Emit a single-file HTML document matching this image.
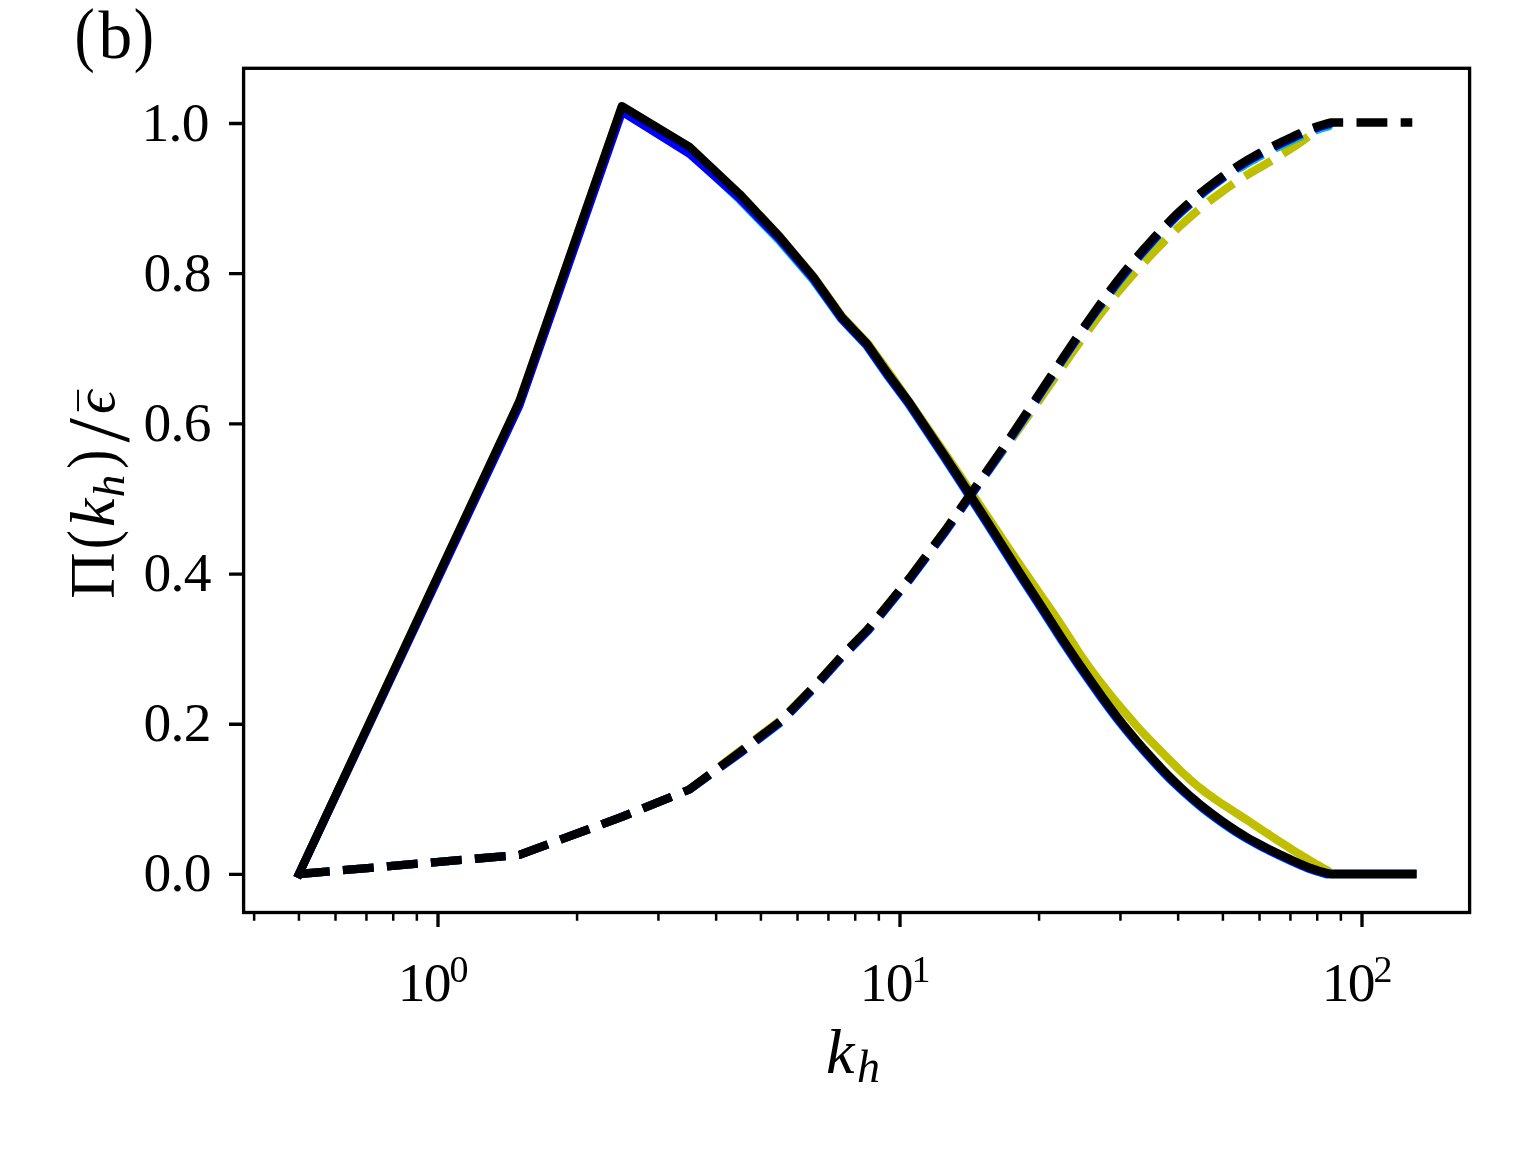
<!DOCTYPE html>
<html lang="en">
<head>
<meta charset="utf-8">
<title>(b) flux figure</title>
<style>
html,body{margin:0;padding:0;background:#ffffff;}
body{width:1536px;height:1152px;overflow:hidden;}
svg{display:block;}
</style>
</head>
<body>
<svg width="1536" height="1152" viewBox="0 0 1536 1152">
<rect x="0" y="0" width="1536" height="1152" fill="#ffffff"/>
<clipPath id="axclip"><rect x="243.60" y="68.30" width="1226.00" height="844.20"/></clipPath>
<g clip-path="url(#axclip)" fill="none" stroke-width="8.33" stroke-linejoin="round">
<path d="M298.92 874.00 L519.35 401.30 L621.85 106.40 L689.36 147.00 L739.78 194.20 L780.05 237.20 L813.57 276.80 L842.28 316.60 L867.39 343.00 L889.71 373.62 L909.79 402.51 L928.04 428.76 L944.77 453.10 L960.21 475.84 L974.55 497.24 L987.93 517.32 L1000.48 536.14 L1012.28 553.75 L1023.43 570.16 L1034.00 585.38 L1044.03 599.77 L1053.59 613.64 L1062.71 627.22 L1071.43 640.69 L1079.79 653.96 L1087.82 665.38 L1095.54 675.87 L1102.97 685.58 L1110.14 694.61 L1117.06 703.06 L1123.75 711.01 L1130.22 718.54 L1136.49 725.70 L1142.57 732.50 L1148.47 738.65 L1154.21 744.48 L1159.78 750.16 L1165.20 755.68 L1170.48 760.99 L1175.63 766.08 L1180.64 770.93 L1185.54 775.52 L1190.32 779.84 L1194.98 783.88 L1199.54 787.64 L1204.00 791.11 L1208.36 794.37 L1212.63 797.44 L1216.81 800.34 L1220.91 803.11 L1224.92 805.76 L1228.85 808.32 L1232.71 810.81 L1236.50 813.24 L1240.22 815.62 L1243.86 817.98 L1247.45 820.31 L1250.97 822.64 L1254.43 824.94 L1257.83 827.21 L1261.17 829.43 L1264.46 831.62 L1267.70 833.76 L1270.88 835.87 L1274.02 837.93 L1277.10 839.95 L1280.14 841.93 L1283.14 843.87 L1286.09 845.77 L1289.00 847.62 L1291.86 849.44 L1294.69 851.21 L1297.48 852.95 L1300.22 854.64 L1302.94 856.29 L1305.61 857.90 L1308.25 859.48 L1310.86 861.03 L1313.43 862.54 L1315.97 864.02 L1318.48 865.47 L1320.95 866.89 L1323.40 868.29 L1325.82 869.65 L1328.21 871.00 L1330.57 874.00 L1412.31 874.00" stroke="#bfbf00" stroke-linecap="square"/>
<path d="M298.92 874.00 L519.35 854.90 L621.85 816.90 L689.36 789.50 L739.78 751.10 L780.05 720.50 L813.57 687.00 L842.28 655.20 L867.39 629.70 L889.71 602.30 L909.79 577.71 L928.04 553.22 L944.77 531.12 L960.21 509.28 L974.55 489.44 L987.93 471.57 L1000.48 454.48 L1012.28 438.20 L1023.43 422.63 L1034.00 407.69 L1044.03 393.38 L1053.59 379.56 L1062.71 366.35 L1071.43 353.92 L1079.79 342.11 L1087.82 330.99 L1095.54 320.59 L1102.97 310.84 L1110.14 301.69 L1117.06 293.16 L1123.75 285.22 L1130.22 277.78 L1136.49 270.77 L1142.57 264.12 L1148.47 257.76 L1154.21 251.66 L1159.78 245.83 L1165.20 240.30 L1170.48 235.06 L1175.63 230.13 L1180.64 225.50 L1185.54 221.07 L1190.32 216.83 L1194.98 212.80 L1199.54 208.97 L1204.00 205.35 L1208.36 201.91 L1212.63 198.65 L1216.81 195.54 L1220.91 192.55 L1224.92 189.68 L1228.85 186.93 L1232.71 184.28 L1236.50 181.74 L1240.22 179.32 L1243.86 176.99 L1247.45 174.77 L1250.97 172.65 L1254.43 170.62 L1257.83 168.66 L1261.17 166.76 L1264.46 164.86 L1267.70 162.96 L1270.88 161.08 L1274.02 159.19 L1277.10 157.32 L1280.14 155.45 L1283.14 153.59 L1286.09 151.75 L1289.00 149.90 L1291.86 148.06 L1294.69 146.23 L1297.48 144.43 L1300.22 142.54 L1302.94 140.58 L1305.61 138.60 L1308.25 136.62 L1310.86 134.69 L1313.43 132.85 L1315.97 130.99 L1318.48 129.01 L1320.95 127.13 L1323.40 125.57 L1325.82 124.38 L1328.21 123.35 L1330.57 122.50" stroke="#bfbf00" stroke-linecap="butt" stroke-dasharray="30.83 13.33" stroke-dashoffset="0.00"/>
<path d="M298.92 874.00 L519.35 404.30 L621.85 109.10 L689.36 152.20 L739.78 199.80 L779.75 241.20 L812.97 279.90 L840.98 318.60 L866.09 345.20 L888.41 377.07 L908.49 404.08 L926.74 431.46 L943.47 456.60 L958.91 480.15 L973.25 502.43 L986.63 523.22 L999.18 543.11 L1010.98 561.84 L1022.13 579.32 L1032.70 595.46 L1042.73 610.94 L1052.29 625.90 L1061.41 640.15 L1070.13 653.32 L1078.49 665.62 L1086.52 677.22 L1094.24 688.15 L1101.67 698.58 L1108.84 708.42 L1115.76 717.58 L1122.45 726.03 L1128.92 733.93 L1135.19 741.36 L1141.27 748.37 L1147.17 755.00 L1152.91 761.33 L1158.48 767.38 L1163.90 773.12 L1169.18 778.52 L1174.33 783.58 L1179.34 788.29 L1184.24 792.76 L1189.02 797.00 L1193.68 801.01 L1198.24 804.83 L1202.70 808.44 L1207.06 811.86 L1211.33 815.10 L1215.51 818.19 L1219.61 821.16 L1223.62 823.99 L1227.55 826.70 L1231.41 829.29 L1235.20 831.76 L1238.92 834.11 L1242.56 836.34 L1246.15 838.47 L1249.67 840.49 L1253.13 842.42 L1256.53 844.26 L1259.87 846.04 L1263.16 847.74 L1266.40 849.39 L1269.58 850.97 L1272.72 852.51 L1275.80 854.01 L1278.84 855.46 L1281.84 856.87 L1284.79 858.25 L1287.70 859.60 L1290.56 860.93 L1293.39 862.24 L1296.18 863.51 L1298.92 864.73 L1301.64 865.90 L1304.31 867.02 L1306.95 868.07 L1309.56 869.05 L1312.13 869.95 L1314.67 870.80 L1317.18 871.61 L1319.65 872.37 L1322.10 873.09 L1324.52 873.77 L1326.91 874.40 L1330.57 874.00 L1412.31 874.00" stroke="#00bfbf" stroke-linecap="square"/>
<path d="M298.92 874.00 L519.35 854.90 L621.85 816.90 L689.36 789.50 L740.68 752.90 L780.95 722.30 L814.47 687.90 L843.18 656.10 L868.29 630.60 L890.61 603.20 L910.69 578.60 L928.94 554.00 L945.67 531.68 L961.11 509.57 L975.45 489.11 L988.83 470.31 L1001.38 452.27 L1013.18 434.91 L1024.33 418.34 L1034.90 402.45 L1044.93 387.29 L1054.49 372.73 L1063.61 358.86 L1072.33 345.90 L1080.69 333.70 L1088.72 322.18 L1096.44 311.32 L1103.97 301.85 L1111.14 292.04 L1118.06 282.91 L1124.75 274.47 L1131.22 266.57 L1137.49 259.14 L1143.57 252.13 L1149.47 245.49 L1155.21 239.15 L1160.78 233.10 L1166.20 227.35 L1171.48 221.94 L1176.63 216.87 L1181.64 212.15 L1186.54 207.67 L1191.32 203.43 L1195.98 199.40 L1200.54 195.57 L1205.00 191.95 L1209.36 188.51 L1213.63 185.25 L1217.81 182.14 L1221.91 179.15 L1225.92 176.29 L1229.85 173.55 L1233.71 170.93 L1237.50 168.43 L1240.82 167.45 L1244.46 165.19 L1248.05 163.03 L1251.57 160.98 L1255.03 159.02 L1258.43 157.14 L1261.77 155.33 L1265.06 153.60 L1268.30 151.92 L1271.48 150.31 L1274.62 148.74 L1277.70 147.22 L1280.74 145.74 L1283.74 144.30 L1286.69 142.89 L1289.60 141.51 L1292.46 140.14 L1295.29 138.80 L1298.08 137.49 L1300.82 136.23 L1303.54 135.02 L1306.21 133.88 L1308.85 132.79 L1311.46 131.78 L1314.03 130.85 L1316.57 129.97 L1319.08 129.15 L1321.55 128.37 L1324.00 127.63 L1326.42 126.94 L1328.81 126.30 L1330.57 122.50" stroke="#00bfbf" stroke-linecap="butt" stroke-dasharray="30.83 13.33" stroke-dashoffset="0.00"/>
<path d="M298.92 874.00 L519.35 405.50 L622.05 111.70 L689.36 153.70 L739.78 198.50 L780.05 239.70 L812.67 277.80 L841.38 318.30 L866.49 344.90 L888.81 376.77 L908.89 403.78 L927.14 431.16 L943.87 456.30 L959.31 479.85 L973.65 502.13 L987.03 522.92 L999.58 542.81 L1011.38 561.54 L1022.53 579.02 L1033.10 595.16 L1043.13 610.64 L1052.69 625.60 L1061.81 639.85 L1070.53 653.02 L1078.89 665.32 L1086.92 676.92 L1094.64 687.85 L1102.07 698.28 L1109.24 708.12 L1116.16 717.28 L1122.85 725.73 L1129.32 733.63 L1135.59 741.06 L1141.67 748.07 L1147.57 754.70 L1153.31 761.03 L1158.88 767.08 L1164.30 772.82 L1169.58 778.22 L1174.73 783.28 L1179.74 787.99 L1184.64 792.46 L1189.42 796.70 L1194.08 800.71 L1198.64 804.53 L1203.10 808.14 L1207.46 811.56 L1211.73 814.80 L1215.91 817.89 L1220.01 820.86 L1224.02 823.69 L1227.95 826.40 L1231.81 828.99 L1235.60 831.46 L1239.32 833.81 L1242.96 836.04 L1246.55 838.17 L1250.07 840.19 L1253.53 842.12 L1256.93 843.96 L1260.27 845.74 L1263.56 847.44 L1266.80 849.09 L1269.98 850.67 L1273.12 852.21 L1276.20 853.71 L1279.24 855.16 L1282.24 856.57 L1285.19 857.95 L1288.10 859.30 L1290.96 860.63 L1293.79 861.94 L1296.58 863.21 L1299.32 864.43 L1302.04 865.60 L1304.71 866.72 L1307.35 867.77 L1309.96 868.75 L1312.53 869.65 L1315.07 870.50 L1317.58 871.31 L1320.05 872.07 L1322.50 872.79 L1324.92 873.47 L1327.31 874.10 L1330.57 874.00 L1412.31 874.00" stroke="#0000ff" stroke-linecap="square"/>
<path d="M298.92 874.00 L519.35 854.90 L621.85 816.90 L689.36 789.50 L740.48 752.60 L780.75 722.00 L814.27 687.60 L842.98 655.80 L868.09 630.30 L890.41 602.90 L910.49 578.30 L928.74 553.70 L945.47 531.38 L960.91 509.27 L975.25 488.81 L988.63 470.01 L1001.18 451.97 L1012.98 434.61 L1024.13 418.04 L1034.70 402.15 L1044.73 386.99 L1054.29 372.43 L1063.41 358.56 L1072.13 345.60 L1080.49 333.40 L1088.52 321.88 L1096.24 311.02 L1103.57 301.25 L1110.74 291.44 L1117.66 282.31 L1124.35 273.87 L1130.82 265.97 L1137.09 258.54 L1143.17 251.53 L1149.07 244.89 L1154.81 238.55 L1160.38 232.50 L1165.80 226.75 L1171.08 221.34 L1176.23 216.27 L1181.24 211.55 L1186.14 207.07 L1190.92 202.83 L1195.58 198.80 L1200.14 194.97 L1204.60 191.35 L1208.96 187.91 L1213.23 184.65 L1217.41 181.54 L1221.51 178.55 L1225.52 175.69 L1229.45 172.95 L1233.31 170.33 L1237.10 167.83 L1240.82 165.45 L1244.46 163.19 L1248.05 161.03 L1251.57 158.98 L1255.03 157.02 L1258.43 155.14 L1261.77 153.33 L1265.06 151.60 L1268.30 149.92 L1271.48 148.31 L1274.62 146.74 L1277.70 145.22 L1280.74 143.74 L1283.74 142.30 L1286.69 140.89 L1289.60 139.51 L1292.46 138.14 L1295.29 136.80 L1298.08 135.49 L1300.82 134.23 L1303.54 133.02 L1306.21 131.88 L1308.85 130.79 L1311.46 129.78 L1314.03 128.85 L1316.57 127.97 L1319.08 127.15 L1321.55 126.37 L1324.00 125.63 L1326.42 124.94 L1328.81 124.30 L1330.57 122.50" stroke="#0000ff" stroke-linecap="butt" stroke-dasharray="30.83 13.33" stroke-dashoffset="0.00"/>
<path d="M298.92 874.00 L519.35 401.30 L621.85 106.10 L689.36 146.70 L739.78 194.20 L780.05 237.20 L813.57 277.10 L842.28 317.60 L867.39 344.20 L889.71 376.07 L909.79 403.08 L928.04 430.46 L944.77 455.60 L960.21 479.15 L974.55 501.43 L987.93 522.22 L1000.48 542.11 L1012.28 560.84 L1023.43 578.32 L1034.00 594.46 L1044.03 609.94 L1053.59 624.90 L1062.71 639.15 L1071.43 652.32 L1079.79 664.62 L1087.82 676.22 L1095.54 687.15 L1102.97 697.58 L1110.14 707.42 L1117.06 716.58 L1123.75 725.03 L1130.22 732.93 L1136.49 740.36 L1142.57 747.37 L1148.47 754.00 L1154.21 760.33 L1159.78 766.38 L1165.20 772.12 L1170.48 777.52 L1175.63 782.58 L1180.64 787.29 L1185.54 791.76 L1190.32 796.00 L1194.98 800.01 L1199.54 803.83 L1204.00 807.44 L1208.36 810.86 L1212.63 814.10 L1216.81 817.19 L1220.91 820.16 L1224.92 822.99 L1228.85 825.70 L1232.71 828.29 L1236.50 830.76 L1240.22 833.11 L1243.86 835.34 L1247.45 837.47 L1250.97 839.49 L1254.43 841.42 L1257.83 843.26 L1261.17 845.04 L1264.46 846.74 L1267.70 848.39 L1270.88 849.97 L1274.02 851.51 L1277.10 853.01 L1280.14 854.46 L1283.14 855.87 L1286.09 857.25 L1289.00 858.60 L1291.86 859.93 L1294.69 861.24 L1297.48 862.51 L1300.22 863.73 L1302.94 864.90 L1305.61 866.02 L1308.25 867.07 L1310.86 868.05 L1313.43 868.95 L1315.97 869.80 L1318.48 870.61 L1320.95 871.37 L1323.40 872.09 L1325.82 872.77 L1328.21 873.40 L1330.57 874.00 L1412.31 874.00" stroke="#000000" stroke-linecap="square"/>
<path d="M298.92 874.00 L519.35 854.90 L621.85 816.90 L689.36 789.50 L739.78 752.00 L780.05 721.40 L813.57 687.00 L842.28 655.20 L867.39 629.70 L889.71 602.30 L909.79 577.70 L928.04 553.10 L944.77 530.78 L960.21 508.67 L974.55 488.21 L987.93 469.41 L1000.48 451.37 L1012.28 434.01 L1023.43 417.44 L1034.00 401.55 L1044.03 386.39 L1053.59 371.83 L1062.71 357.96 L1071.43 345.00 L1079.79 332.80 L1087.82 321.28 L1095.54 310.42 L1102.97 300.05 L1110.14 290.24 L1117.06 281.11 L1123.75 272.67 L1130.22 264.77 L1136.49 257.34 L1142.57 250.33 L1148.47 243.69 L1154.21 237.35 L1159.78 231.30 L1165.20 225.55 L1170.48 220.14 L1175.63 215.07 L1180.64 210.35 L1185.54 205.87 L1190.32 201.63 L1194.98 197.60 L1199.54 193.77 L1204.00 190.15 L1208.36 186.71 L1212.63 183.45 L1216.81 180.34 L1220.91 177.35 L1224.92 174.49 L1228.85 171.75 L1232.71 169.13 L1236.50 166.63 L1240.22 164.25 L1243.86 161.99 L1247.45 159.83 L1250.97 157.78 L1254.43 155.82 L1257.83 153.94 L1261.17 152.13 L1264.46 150.40 L1267.70 148.72 L1270.88 147.11 L1274.02 145.54 L1277.10 144.02 L1280.14 142.54 L1283.14 141.10 L1286.09 139.69 L1289.00 138.31 L1291.86 136.94 L1294.69 135.60 L1297.48 134.29 L1300.22 133.03 L1302.94 131.82 L1305.61 130.68 L1308.25 129.59 L1310.86 128.58 L1313.43 127.65 L1315.97 126.77 L1318.48 125.95 L1320.95 125.17 L1323.40 124.43 L1325.82 123.74 L1328.21 123.10 L1330.57 122.50 L1412.31 122.50" stroke="#000000" stroke-linecap="butt" stroke-dasharray="30.83 13.33" stroke-dashoffset="0.00"/>
</g>
<path d="M243.60 874.40 H229.02 M243.60 724.22 H229.02 M243.60 574.04 H229.02 M243.60 423.86 H229.02 M243.60 273.68 H229.02 M243.60 123.50 H229.02 M438.00 912.50 V927.08 M900.00 912.50 V927.08 M1362.00 912.50 V927.08" stroke="#000" stroke-width="3.33" fill="none"/>
<path d="M254.15 912.50 V920.83 M298.92 912.50 V920.83 M335.51 912.50 V920.83 M366.44 912.50 V920.83 M393.23 912.50 V920.83 M416.86 912.50 V920.83 M577.08 912.50 V920.83 M658.43 912.50 V920.83 M716.15 912.50 V920.83 M760.92 912.50 V920.83 M797.51 912.50 V920.83 M828.44 912.50 V920.83 M855.23 912.50 V920.83 M878.86 912.50 V920.83 M1039.08 912.50 V920.83 M1120.43 912.50 V920.83 M1178.15 912.50 V920.83 M1222.92 912.50 V920.83 M1259.51 912.50 V920.83 M1290.44 912.50 V920.83 M1317.23 912.50 V920.83 M1340.86 912.50 V920.83" stroke="#000" stroke-width="2.5" fill="none"/>
<rect x="243.60" y="68.30" width="1226.00" height="844.20" fill="none" stroke="#000" stroke-width="3.33"/>
<g font-family="'Liberation Serif', 'DejaVu Serif', serif" fill="#000">
<text x="211.0" y="891.40" font-size="55.5" text-anchor="end" letter-spacing="-0.6">0.0</text>
<text x="211.0" y="741.22" font-size="55.5" text-anchor="end" letter-spacing="-0.6">0.2</text>
<text x="211.0" y="591.04" font-size="55.5" text-anchor="end" letter-spacing="-0.6">0.4</text>
<text x="211.0" y="440.86" font-size="55.5" text-anchor="end" letter-spacing="-0.6">0.6</text>
<text x="211.0" y="290.68" font-size="55.5" text-anchor="end" letter-spacing="-0.6">0.8</text>
<text x="209.0" y="140.50" font-size="55.5" text-anchor="end" letter-spacing="-0.6">1.0</text>
<text x="397.70" y="1001.2" font-size="55.5" letter-spacing="-1.6">10</text>
<text x="449.60" y="981.8" font-size="38">0</text>
<text x="859.70" y="1001.2" font-size="55.5" letter-spacing="-1.6">10</text>
<text x="911.60" y="981.8" font-size="38">1</text>
<text x="1321.70" y="1001.2" font-size="55.5" letter-spacing="-1.6">10</text>
<text x="1373.60" y="981.8" font-size="38">2</text>
<text transform="translate(74.5 57.6) scale(0.835 1)" font-size="72.8">(</text>
<text x="98.4" y="57.5" font-size="67.5">b</text>
<text transform="translate(133.65 57.6) scale(0.835 1)" font-size="72.8">)</text>
<text x="826.0" y="1072.5" font-size="64" font-style="italic">k</text>
<text x="857.0" y="1082.0" font-size="46" font-style="italic">h</text>
<g transform="translate(114.2 598) rotate(-90)"><text x="-0.7" y="0" font-size="64.3">Π</text><text transform="translate(48.8 0) scale(0.84 1)" font-size="68.4">(</text><text x="70.9" y="0" font-size="64" font-style="italic">k</text><text x="100.8" y="9.4" font-size="45" font-style="italic">h</text><text transform="translate(129.2 0) scale(0.84 1)" font-size="68.4">)</text><text x="155.5" y="14" font-size="88">/</text><text x="184.0" y="0" font-size="58" font-style="italic">ϵ</text><text x="187.1" y="-5.5" font-size="42">¯</text></g>
</g>
</svg>
</body>
</html>
